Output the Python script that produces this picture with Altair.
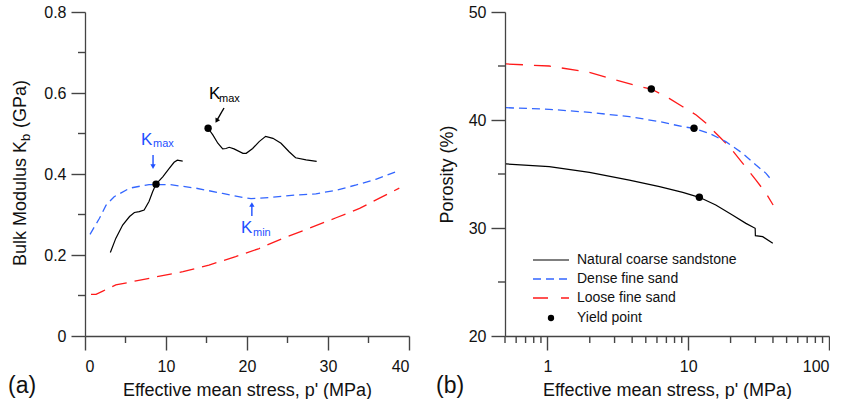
import altair as alt
import pandas as pd

FONT = "Liberation Sans"
BLACK = "#000000"
BLUE = "#3366ff"
BLUE_TXT = "#1f50ff"
RED = "#ff1a1a"
AXIS_GREY = "#444444"

# ---- (a) bulk modulus vs effective mean stress ----
dense_k_p = [0.62, 1.77, 2.6, 3.6, 5.5, 7.9, 10.4, 13.7, 17.0, 19.5, 20.5, 22.8, 26.0, 28.5, 31.0, 33.5, 35.9, 38.6]
dense_k = [0.251, 0.290, 0.323, 0.344, 0.365, 0.374, 0.374, 0.365, 0.352, 0.342, 0.339, 0.342, 0.348, 0.351, 0.360, 0.373, 0.387, 0.407]

loose_k_p = [0.74, 1.36, 2.2, 3.8, 6.3, 8.8, 12.1, 15.3, 18.6, 21.5, 24.4, 27.7, 31.0, 33.9, 36.3, 38.8]
loose_k = [0.103, 0.103, 0.111, 0.126, 0.136, 0.146, 0.159, 0.175, 0.196, 0.216, 0.241, 0.266, 0.292, 0.315, 0.340, 0.365]

rock_k_p_1 = [3.13, 3.8, 4.65, 5.5, 6.1, 6.7, 7.3, 7.9, 8.35, 8.77, 9.6, 10.4, 11.0, 11.4, 12.06]
rock_k_1 = [0.206, 0.241, 0.274, 0.295, 0.305, 0.307, 0.311, 0.332, 0.356, 0.375, 0.393, 0.414, 0.429, 0.434, 0.432]
rock_k_p_2 = [15.2, 15.8, 16.4, 17.0, 17.4, 17.8, 18.4, 19.5, 19.9, 20.7, 21.5, 22.3, 23.2, 24.2, 25.2, 26.0, 27.3, 28.6]
rock_k_2 = [0.513, 0.496, 0.476, 0.462, 0.463, 0.466, 0.462, 0.451, 0.451, 0.463, 0.480, 0.493, 0.488, 0.476, 0.455, 0.440, 0.435, 0.431]

kmax_p = [8.77, 15.2]
kmax_k = [0.375, 0.513]

# ---- (b) porosity vs effective mean stress ----
loose_n_p = [0.508, 1.03, 1.99, 3.07, 4.26, 5.47, 7.33, 9.15, 11.4, 13.4, 16.2, 19.6, 24.4, 30.3, 35.7, 40.1]
loose_n = [45.19, 45.0, 44.41, 43.70, 43.18, 42.87, 42.0, 41.23, 40.46, 39.69, 38.61, 37.53, 35.99, 34.44, 33.21, 32.13]

dense_n_p = [0.508, 1.03, 1.99, 3.82, 6.26, 9.15, 11.0, 14.1, 18.5, 24.4, 30.3, 35.7, 39.9]
dense_n = [41.14, 40.99, 40.71, 40.31, 39.85, 39.38, 39.23, 38.77, 38.0, 36.91, 35.83, 35.06, 34.29]

rock_n_p = [0.508, 1.03, 1.99, 3.82, 6.26, 9.15, 12.0, 15.7, 20.6, 25.7, 29.9, 30.0, 33.8, 39.9]
rock_n = [35.93, 35.68, 35.15, 34.44, 33.83, 33.30, 32.84, 32.13, 31.20, 30.43, 29.97, 29.29, 29.20, 28.58]

yield_p = [5.47, 11.0, 12.0]
yield_n = [42.87, 39.23, 32.84]

legend_labels = ["Natural coarse sandstone", "Dense fine sand", "Loose fine sand", "Yield point"]

# tick positions
a_x_major = [0, 10, 20, 30, 40]
a_x_minor = [5, 15, 25, 35]
a_y_major = [0.0, 0.2, 0.4, 0.6, 0.8]
a_y_minor = [0.1, 0.3, 0.5, 0.7]
b_x_major = [1, 10, 100]
b_x_minor = [0.5, 0.6, 0.7, 0.8, 0.9, 2, 3, 4, 5, 6, 7, 8, 9, 20, 30, 40, 50, 60, 70, 80, 90]
b_y_major = [20, 30, 40, 50]
b_y_minor = [25, 35, 45]


def frame(xs, ys, seg="s"):
    return pd.DataFrame({"p": xs, "v": ys, "i": range(len(xs)), "seg": seg})


W = H = 324
MAJOR, MINOR = 14, 7

# major ticks come from the axes themselves
common_axis = dict(
    domainColor=AXIS_GREY, domainWidth=1.3, ticks=True, tickSize=MAJOR,
    tickColor=AXIS_GREY, tickWidth=1.4, tickOpacity=1,
    labelColor="#111", titleColor="#111", labelFont=FONT, titleFont=FONT,
    labelFontSize=16, titleFontSize=18, grid=False, titleFontWeight="normal",
)


def minor_ticks(xmin, ymin):
    """Short outward minor ticks along the bottom and left axis lines."""
    return [
        alt.Chart(pd.DataFrame({"tx": xmin})).mark_tick(
            color=AXIS_GREY, thickness=1.4, size=MINOR, orient="vertical", opacity=1).encode(
            x=alt.X("tx:Q"), y=alt.value(H + MINOR / 2)),
        alt.Chart(pd.DataFrame({"ty": ymin})).mark_tick(
            color=AXIS_GREY, thickness=1.4, size=MINOR, orient="horizontal", opacity=1).encode(
            y=alt.Y("ty:Q"), x=alt.value(-MINOR / 2)),
    ]


# ---------- panel (a) ----------
def xa():
    return alt.X("p:Q", scale=alt.Scale(domain=[0, 40], nice=False, zero=False),
                 axis=alt.Axis(values=a_x_major, labelPadding=8,
                               title="Effective mean stress, p' (MPa)", titlePadding=7, **common_axis))


def ya():
    return alt.Y("v:Q", scale=alt.Scale(domain=[0, 0.8], nice=False),
                 axis=alt.Axis(values=a_y_major,
                               labelExpr="datum.value === 0 ? '0' : format(datum.value, '.1f')",
                               labelPadding=5, title=None, **common_axis))


a_dense = alt.Chart(frame(dense_k_p, dense_k)).mark_line(
    color=BLUE, strokeWidth=1.3, strokeDash=[8, 5]).encode(x=xa(), y=ya(), order="i:Q")
a_loose = alt.Chart(frame(loose_k_p, loose_k)).mark_line(
    color=RED, strokeWidth=1.3, strokeDash=[15, 8]).encode(x=xa(), y=ya(), order="i:Q")
rock_a = pd.concat([frame(rock_k_p_1, rock_k_1, "s1"), frame(rock_k_p_2, rock_k_2, "s2")])
a_rock = alt.Chart(rock_a).mark_line(color=BLACK, strokeWidth=1.2).encode(
    x=xa(), y=ya(), order="i:Q", detail="seg:N")
a_pts = alt.Chart(frame(kmax_p, kmax_k)).mark_circle(color=BLACK, opacity=1, size=55).encode(x=xa(), y=ya())

# annotation arrows (data coordinates)
arrows = pd.DataFrame({
    "p": [17.16, 8.4, 20.6], "v": [0.563, 0.447, 0.296],
    "p2": [16.3, 8.4, 20.6], "v2": [0.533, 0.420, 0.323],
    "ang": [210, 180, 0], "c": [BLACK, BLUE_TXT, BLUE_TXT],
})
a_arrow_shaft = alt.Chart(arrows).mark_rule(strokeWidth=1.4).encode(
    x="p:Q", y="v:Q", x2="p2:Q", y2="v2:Q", color=alt.Color("c:N", scale=None))
a_arrow_head = alt.Chart(arrows).mark_point(shape="triangle", filled=True, size=28, opacity=1).encode(
    x="p2:Q", y="v2:Q", angle=alt.Angle("ang:Q", scale=None), color=alt.Color("c:N", scale=None))

ann = pd.DataFrame({
    "p": [15.3, 16.54, 6.91, 8.40, 19.26, 20.74],
    "v": [0.585, 0.577, 0.4716, 0.466, 0.254, 0.248],
    "t": ["K", "max", "K", "max", "K", "min"],
    "s": [17, 11, 17, 11, 17, 11],
    "c": [BLACK, BLACK, BLUE_TXT, BLUE_TXT, BLUE_TXT, BLUE_TXT],
})
a_ann = alt.Chart(ann).mark_text(align="left", baseline="alphabetic", font=FONT).encode(
    x="p:Q", y="v:Q", text="t:N", size=alt.Size("s:Q", scale=None), color=alt.Color("c:N", scale=None))

# y-axis title with subscript
a_ytitle = [
    alt.Chart().mark_text(text="Bulk Modulus K", angle=270, align="left", baseline="alphabetic",
                          font=FONT, fontSize=18, color="#111").encode(x=alt.value(-59), y=alt.value(254)),
    alt.Chart().mark_text(text="b", angle=270, align="left", baseline="alphabetic",
                          font=FONT, fontSize=13, color="#111").encode(x=alt.value(-55), y=alt.value(129)),
    alt.Chart().mark_text(text="(GPa)", angle=270, align="left", baseline="alphabetic",
                          font=FONT, fontSize=18, color="#111").encode(x=alt.value(-59), y=alt.value(116)),
]
a_tag = alt.Chart().mark_text(text="(a)", align="left", baseline="middle", font=FONT, fontSize=23,
                              color="#111").encode(x=alt.value(-77), y=alt.value(374))

panel_a = alt.layer(
    a_dense, a_loose, a_rock, a_pts, a_arrow_shaft, a_arrow_head, a_ann,
    *minor_ticks(a_x_minor, a_y_minor),
    *a_ytitle, a_tag,
).properties(width=W, height=H)

# ---------- panel (b) ----------
def xb():
    return alt.X("p:Q", scale=alt.Scale(type="log", domain=[0.5, 100], nice=False),
                 axis=alt.Axis(values=b_x_major, labelExpr="format(datum.value, '~g')", labelPadding=8,
                               title="Effective mean stress, p' (MPa)", titlePadding=7, **common_axis))


def yb():
    return alt.Y("v:Q", scale=alt.Scale(domain=[20, 50], nice=False, zero=False),
                 axis=alt.Axis(values=b_y_major, labelPadding=5, title="Porosity (%)",
                               titlePadding=12, **common_axis))


b_loose = alt.Chart(frame(loose_n_p, loose_n)).mark_line(
    color=RED, strokeWidth=1.3, strokeDash=[17, 11]).encode(x=xb(), y=yb(), order="i:Q")
b_dense = alt.Chart(frame(dense_n_p, dense_n)).mark_line(
    color=BLUE, strokeWidth=1.3, strokeDash=[8, 5]).encode(x=xb(), y=yb(), order="i:Q")
b_rock = alt.Chart(frame(rock_n_p, rock_n)).mark_line(color=BLACK, strokeWidth=1.2).encode(
    x=xb(), y=yb(), order="i:Q")
b_pts = alt.Chart(frame(yield_p, yield_n)).mark_circle(color=BLACK, opacity=1, size=55).encode(x=xb(), y=yb())

# hand-drawn key inside the plot area
key_rows = [248, 267, 286, 306]
key = [
    alt.Chart().mark_rule(color=BLACK, strokeWidth=1.2).encode(
        x=alt.value(28), x2=alt.value(64), y=alt.value(key_rows[0])),
    alt.Chart().mark_rule(color=BLUE, strokeWidth=1.3, strokeDash=[8, 5]).encode(
        x=alt.value(28), x2=alt.value(64), y=alt.value(key_rows[1])),
    alt.Chart().mark_rule(color=RED, strokeWidth=1.3, strokeDash=[15, 13]).encode(
        x=alt.value(28), x2=alt.value(64), y=alt.value(key_rows[2])),
    alt.Chart().mark_point(shape="circle", filled=True, size=40, color=BLACK, opacity=1).encode(
        x=alt.value(46), y=alt.value(key_rows[3])),
]
for lab, ry in zip(legend_labels, key_rows):
    key.append(alt.Chart().mark_text(text=lab, align="left", baseline="middle", font=FONT,
                                     fontSize=14, color="#111").encode(x=alt.value(72), y=alt.value(ry)))
b_tag = alt.Chart().mark_text(text="(b)", align="left", baseline="middle", font=FONT, fontSize=23,
                              color="#111").encode(x=alt.value(-69), y=alt.value(374))

panel_b = alt.layer(
    b_loose, b_dense, b_rock, b_pts,
    *minor_ticks(b_x_minor, b_y_minor),
    *key, b_tag,
).properties(width=W, height=H)

chart = alt.hconcat(panel_a, panel_b, spacing=96, bounds="flush").properties(
    padding={"left": 8, "top": 4, "right": 0, "bottom": 0}, background="white"
).configure_view(stroke=None)

chart.save("out.html", embed_options={"renderer": "svg", "actions": False})
